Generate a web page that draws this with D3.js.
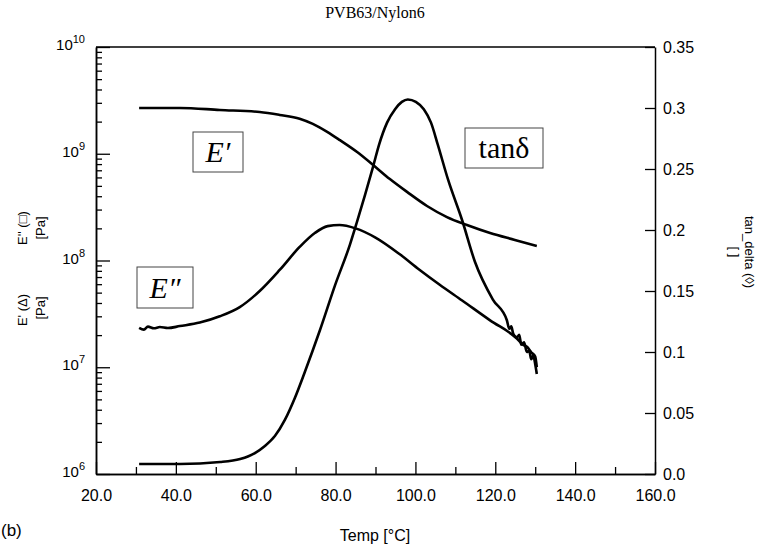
<!DOCTYPE html>
<html><head><meta charset="utf-8">
<script src="https://cdn.jsdelivr.net/npm/d3@7"></script>
<style>body{margin:0;background:#fff}</style>
</head><body><svg id="c" width="762" height="548"></svg>
<script>
// ---------- data ----------
const chartTitle = "PVB63/Nylon6";
const xTicks = [20, 40, 60, 80, 100, 120, 140, 160];
const xMinorTicks = [30, 50, 70, 90, 110, 130, 150];
const leftDecades = [6, 7, 8, 9, 10];
const rightTicks = [0, 0.05, 0.1, 0.15, 0.2, 0.25, 0.3, 0.35];
const rightTickLabels = ["0.0", "0.05", "0.1", "0.15", "0.2", "0.25", "0.3", "0.35"];

// E' (storage modulus, Pa)
const ePrimeTemp = [30.8, 41, 51, 61, 66, 71, 74.3, 77.9, 81.1, 85.4, 89.4, 93.6, 97.9, 102.9, 107.9, 112.9, 118.7, 124.9, 130.4];
const ePrimeVal  = [2.685e9, 2.685e9, 2.57e9, 2.46e9, 2.31e9, 2.13e9, 1.905e9, 1.603e9, 1.34e9, 1.038e9, 7.85e8, 5.79e8, 4.39e8, 3.24e8, 2.55e8, 2.15e8, 1.81e8, 1.56e8, 1.37e8];

// E'' (loss modulus, Pa)
const eDoubleTemp = [30.8, 32, 33, 34.5, 36, 38, 41, 46, 51, 56, 61, 66, 71, 74.8, 78, 81, 85, 90, 96, 101, 106, 111.7, 118.7, 125.4, 127, 128, 129, 130, 130.4];
const eDoubleVal  = [2.34e7, 2.25e7, 2.40e7, 2.32e7, 2.38e7, 2.33e7, 2.43e7, 2.62e7, 3.0e7, 3.66e7, 5.18e7, 8.15e7, 1.34e8, 1.81e8, 2.10e8, 2.15e8, 2.0e8, 1.64e8, 1.15e8, 8.2e7, 5.96e7, 4.22e7, 2.75e7, 1.86e7, 1.62e7, 1.55e7, 1.38e7, 1.26e7, 1.0e7];

// tan delta
const tanTemp = [30.8, 41, 51.1, 56.1, 59.8, 62.3, 64.8, 67.3, 69.8, 72.3, 76.1, 79.9, 83.6, 85.4, 87.4, 89.4, 90.9, 92.9, 94.9, 96.6, 98.1, 100.1, 102.1, 103.9, 105.6, 108.2, 111.7, 114.9, 119.4, 122.9, 123.5, 124, 124.5, 125.4, 126, 126.5, 127.2, 127.9, 128.5, 129, 129.5, 130, 130.4];
const tanVal  = [0.0082, 0.0082, 0.0098, 0.0123, 0.0172, 0.0230, 0.0311, 0.0443, 0.0623, 0.0836, 0.118, 0.155, 0.188, 0.207, 0.229, 0.252, 0.270, 0.288, 0.299, 0.305, 0.307, 0.305, 0.299, 0.288, 0.270, 0.241, 0.208, 0.174, 0.143, 0.126, 0.119, 0.121, 0.115, 0.112, 0.114, 0.106, 0.108, 0.100, 0.101, 0.094, 0.097, 0.090, 0.082];

// ---------- layout ----------
const L = 96, R = 655, T = 47, B = 474;
const svg = d3.select("#c");
const x = d3.scaleLinear().domain([20, 160]).range([L, R]);
const yL = d3.scaleLog().domain([1e6, 1e10]).range([B, T]);
const yR = d3.scaleLinear().domain([0, 0.35]).range([B, T]);
const sans = "'Liberation Sans', Arial, sans-serif";
const serif = "'Liberation Serif', 'Times New Roman', serif";

// title
svg.append("text").attr("x", 375).attr("y", 18).attr("text-anchor", "middle")
  .attr("font-family", serif).attr("font-size", 16).text(chartTitle);

// frame top
svg.append("line").attr("x1", L).attr("x2", R).attr("y1", T).attr("y2", T)
  .attr("stroke", "#000").attr("stroke-width", 1.5);

function styleAxis(g) {
  g.select(".domain").attr("stroke", "#000").attr("stroke-width", 1.5);
  g.selectAll(".tick line").attr("stroke", "#000").attr("stroke-width", 1.3);
  g.selectAll("text").attr("font-family", sans).attr("font-size", 16).attr("fill", "#000");
}

// x axis
const gx = svg.append("g").attr("transform", `translate(0,${B})`)
  .call(d3.axisBottom(x).tickValues(xTicks).tickSize(-12).tickSizeOuter(0).tickPadding(16)
    .tickFormat(d => d.toFixed(1)));
styleAxis(gx);
const gxm = svg.append("g").attr("transform", `translate(0,${B})`)
  .call(d3.axisBottom(x).tickValues(xMinorTicks).tickSize(-7).tickSizeOuter(0).tickFormat(""));
styleAxis(gxm);

// left axis (log)
const minorL = [];
leftDecades.slice(0, -1).forEach(k => { for (let m = 2; m <= 9; m++) minorL.push(m * Math.pow(10, k)); });
const gl = svg.append("g").attr("transform", `translate(${L},0)`)
  .call(d3.axisLeft(yL).tickValues(leftDecades.map(k => Math.pow(10, k))).tickSize(-14).tickSizeOuter(0).tickFormat(""));
styleAxis(gl);
const glm = svg.append("g").attr("transform", `translate(${L},0)`)
  .call(d3.axisLeft(yL).tickValues(minorL).tickSize(-6).tickSizeOuter(0).tickFormat(""));
styleAxis(glm);
leftDecades.forEach(k => {
  const t = svg.append("text").attr("x", 85).attr("y", yL(Math.pow(10, k)) + 3)
    .attr("text-anchor", "end").attr("font-family", sans).attr("font-size", 15);
  t.append("tspan").text("10");
  t.append("tspan").attr("dy", -7).attr("font-size", 11).text(String(k));
});

// right axis
const gr = svg.append("g").attr("transform", `translate(${R},0)`)
  .call(d3.axisRight(yR).tickValues(rightTicks).tickSize(-10).tickSizeOuter(0).tickPadding(8)
    .tickFormat((d, i) => rightTickLabels[i]));
styleAxis(gr);

// axis titles
svg.append("text").attr("x", 375).attr("y", 541).attr("text-anchor", "middle")
  .attr("font-family", sans).attr("font-size", 16).text("Temp [°C]");
svg.append("text").attr("x", 1).attr("y", 536)
  .attr("font-family", sans).attr("font-size", 17).text("(b)");

function rotText(xp, yp, ang, txt, size) {
  svg.append("text").attr("transform", `translate(${xp},${yp}) rotate(${ang})`)
    .attr("text-anchor", "middle").attr("font-family", sans).attr("font-size", size).text(txt);
}
rotText(27, 228, -90, "E'' (□)", 13);
rotText(45, 228, -90, "[Pa]", 13);
rotText(27, 310, -90, "E' (Δ)", 13);
rotText(45, 308, -90, "[Pa]", 13);
rotText(745, 252, 90, "tan_delta (◊)", 13);
rotText(730, 252, 90, "[ ]", 13);

// curves
const lineL = d3.line().x(d => x(d[0])).y(d => yL(d[1])).curve(d3.curveMonotoneX);
const lineR = d3.line().x(d => x(d[0])).y(d => yR(d[1])).curve(d3.curveMonotoneX);
const series = [
  { path: lineL(d3.zip(ePrimeTemp, ePrimeVal)) },
  { path: lineL(d3.zip(eDoubleTemp, eDoubleVal)) },
  { path: lineR(d3.zip(tanTemp, tanVal)) }
];
svg.selectAll("path.curve").data(series).join("path").attr("class", "curve")
  .attr("d", d => d.path).attr("fill", "none").attr("stroke", "#000")
  .attr("stroke-width", 2.6).attr("stroke-linejoin", "round");

// label boxes
function box(x0, y0, w, h, txt, italic) {
  svg.append("rect").attr("x", x0).attr("y", y0).attr("width", w).attr("height", h)
    .attr("fill", "#fff").attr("stroke", "#444").attr("stroke-width", 1);
  svg.append("text").attr("x", x0 + w / 2).attr("y", y0 + h / 2 + 10).attr("text-anchor", "middle")
    .attr("font-family", serif).attr("font-size", 30).attr("font-style", italic ? "italic" : "normal")
    .text(txt);
}
box(193, 132, 50, 40, "E′", true);
box(465, 128, 78, 40, "tanδ", false);
box(137, 267, 56, 41, "E″", true);
</script>
</body></html>
